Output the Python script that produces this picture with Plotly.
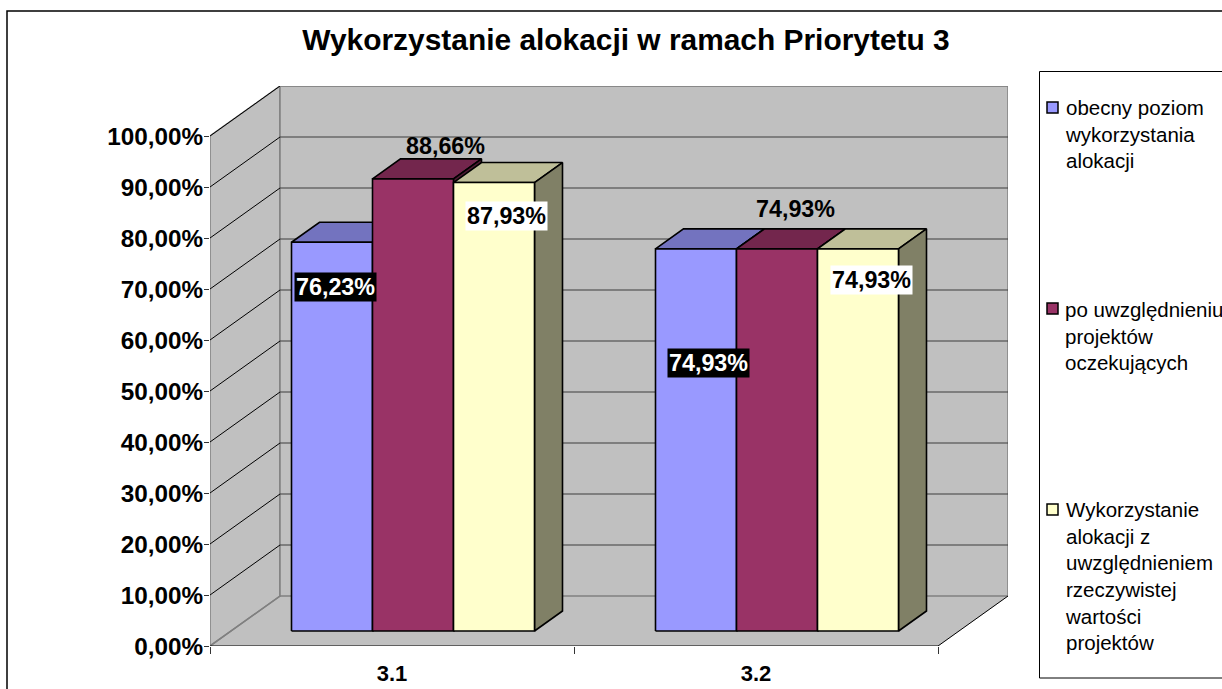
import plotly.graph_objects as go

categories = ["3.1", "3.2"]
series_names = ["obecny poziom wykorzystania alokacji",
                "po uwzględnieniu projektów oczekujących",
                "Wykorzystanie alokacji z uwzględnieniem rzeczywistej wartości projektów"]
obecny = [76.23, 74.93]
po_uwzgl = [88.66, 74.93]
wykorzystanie = [87.93, 74.93]
y_ticks = [0, 10, 20, 30, 40, 50, 60, 70, 80, 90, 100]
y_tick_labels = ["0,00%", "10,00%", "20,00%", "30,00%", "40,00%", "50,00%",
                 "60,00%", "70,00%", "80,00%", "90,00%", "100,00%"]
legend_lines = [["obecny poziom", "wykorzystania", "alokacji"],
                ["po uwzględnieniu", "projektów", "oczekujących"],
                ["Wykorzystanie", "alokacji z", "uwzględnieniem", "rzeczywistej", "wartości", "projektów"]]

# styling
front = ["#9999FF", "#993366", "#FFFFCC"]
top = ["#7373BF", "#73264D", "#BFBF99"]
side = ["#4D4D80", "#4D1A33", "#808066"]
label_bg = ["#000000", "rgba(0,0,0,0)", "#FFFFFF"]
label_fg = ["#FFFFFF", "#000000", "#000000"]
# label offset from the top centre of the bar front, in pixels (series, category)
label_off = [[(3, 45), (12, 114)], [(32, -33), (18, -40)], [(12, 33), (13, 31)]]
FONT = "Liberation Sans, Arial, sans-serif"

W, H = 1222, 689
L, R, T, B = 210, 1008, 86, 646
PX_X = 364.0  # pixels per category
PX_Y = 5.1    # pixels per percent
DX, DY = 70 / PX_X, 50 / PX_Y
BAR_W = 81 / PX_X
GAP = (1 - 3 * BAR_W) / 2
D0, D1 = 0.3, 0.7


def proj(x, y, d):
    return x + d * DX, y + d * DY


fig = go.Figure()


def poly(pts, fill=None, line="#000000", width=1.0, name=""):
    xs, ys = zip(*[proj(*p) for p in pts])
    kw = dict(fill="toself", fillcolor=fill) if fill else {}
    fig.add_trace(go.Scatter(x=list(xs), y=list(ys), mode="lines", name=name,
                             line=dict(color=line, width=width), cliponaxis=False,
                             showlegend=False, hoverinfo="skip", **kw))


n = len(categories)
WALL = "#C0C0C0"
EDGE = "#808080"
poly([(0, 0, 0), (n, 0, 0), (n, 0, 1), (0, 0, 1), (0, 0, 0)], WALL, WALL, 0.5)
poly([(0, 0, 0), (0, 100, 0), (0, 100, 1), (0, 0, 1), (0, 0, 0)], WALL, EDGE, 1.5)
poly([(0, 0, 1), (0, 100, 1), (n, 100, 1), (n, 0, 1), (0, 0, 1)], WALL, EDGE, 1.5)
for v in y_ticks[1:]:
    poly([(0, v, 0), (0, v, 1)], None, "#000000", 1)
    poly([(0, v, 1), (n, v, 1)], None, "#3C3C3C" if v < 100 else EDGE, 1)
poly([(0, 0, 0), (0, 0, 1)], None, EDGE, 1.5)
poly([(n, 0, 0), (n, 0, 1)], None, "#000000", 1)
poly([(0, 0, 0), (n, 0, 0)], None, "#000000", 1.2)

all_series = [obecny, po_uwzgl, wykorzystanie]
annotations = []
for c in range(n):
    for s, vals in enumerate(all_series):
        v = vals[c]
        x0 = c + GAP + s * BAR_W
        x1 = x0 + BAR_W
        lw = 1.6
        poly([(x0, v, D0), (x1, v, D0), (x1, v, D1), (x0, v, D1), (x0, v, D0)], top[s], "#000000", lw, series_names[s])
        poly([(x1, 0, D0), (x1, v, D0), (x1, v, D1), (x1, 0, D1), (x1, 0, D0)], side[s], "#000000", lw, series_names[s])
        poly([(x0, 0, D0), (x0, v, D0), (x1, v, D0), (x1, 0, D0), (x0, 0, D0)], front[s], "#000000", lw, series_names[s])

for c in range(n):
    for s, vals in enumerate(all_series):
        v = vals[c]
        x0 = c + GAP + s * BAR_W
        px, py = proj(x0 + BAR_W / 2, v, D0)
        ox, oy = label_off[s][c]
        annotations.append(dict(x=px, y=py, xref="x", yref="y", xshift=ox, yshift=-oy,
                                text=f"<b>{v:.2f}%</b>".replace(".", ","), showarrow=False,
                                font=dict(family=FONT, size=23.3, color=label_fg[s]),
                                bgcolor=label_bg[s], borderpad=1))

PW, PH = R - L, B - T


def pxx(p):
    return (p - L) / PW


def pxy(p):
    return (B - p) / PH


shapes = [
    dict(type="rect", xref="paper", yref="paper", x0=pxx(7), x1=pxx(1300), y0=pxy(11), y1=pxy(800),
         line=dict(color="#000000", width=1.5), fillcolor="rgba(0,0,0,0)", layer="below"),
    dict(type="rect", xref="paper", yref="paper", x0=pxx(1039.5), x1=pxx(1300), y0=pxy(71.5), y1=pxy(678),
         line=dict(color="#000000", width=1), fillcolor="#FFFFFF", layer="below"),
]
sw_y = [102, 303, 504]
text_top = [95, 297, 497]
for s in range(3):
    shapes.append(dict(type="rect", xref="paper", yref="paper", x0=pxx(1047), x1=pxx(1058),
                       y0=pxy(sw_y[s]), y1=pxy(sw_y[s] + 11), fillcolor=front[s],
                       line=dict(color="#000000", width=1.5)))
    annotations.append(dict(xref="paper", yref="paper", x=pxx(1064), y=pxy(text_top[s]),
                            xanchor="left", yanchor="top", align="left", showarrow=False,
                            text="<br>".join(legend_lines[s]), borderpad=0,
                            font=dict(family=FONT, size=20.5, color="#000000")))

fig.update_layout(
    width=W, height=H,
    margin=dict(l=L, r=W - R, t=T, b=H - B, pad=0, autoexpand=False),
    paper_bgcolor="#FFFFFF", plot_bgcolor="rgba(0,0,0,0)",
    showlegend=False, hovermode=False,
    title=dict(text="<b>Wykorzystanie alokacji w ramach Priorytetu 3</b>", x=626 / W, xanchor="center",
               y=1 - 40 / H, yanchor="middle", font=dict(family=FONT, size=29.9, color="#000000")),
    xaxis=dict(range=[0, PW / PX_X], showgrid=False, zeroline=False, showline=False,
               tickmode="array", tickvals=[0.5, 1.5], ticktext=[f"<b>{c}</b>" for c in categories],
               ticks="", tickfont=dict(family=FONT, size=22, color="#000000"), ticklabelstandoff=12,
               minor=dict(tickmode="array", tickvals=list(range(n + 1)), ticks="outside",
                          ticklen=7, tickcolor="#333333", tickwidth=1, showgrid=False)),
    yaxis=dict(range=[0, PH / PX_Y], showgrid=False, zeroline=False, showline=False,
               tickmode="array", tickvals=y_ticks, ticktext=[f"<b>{t}</b>" for t in y_tick_labels],
               ticks="outside", ticklen=5, tickcolor="#333333", tickwidth=1, ticklabelstandoff=-4,
               tickfont=dict(family=FONT, size=24.3, color="#000000")),
    shapes=shapes, annotations=annotations,
)

fig.write_html("out.html", config=dict(displayModeBar=False),
               post_script="document.body.style.margin='0';document.body.style.overflow='hidden';")
